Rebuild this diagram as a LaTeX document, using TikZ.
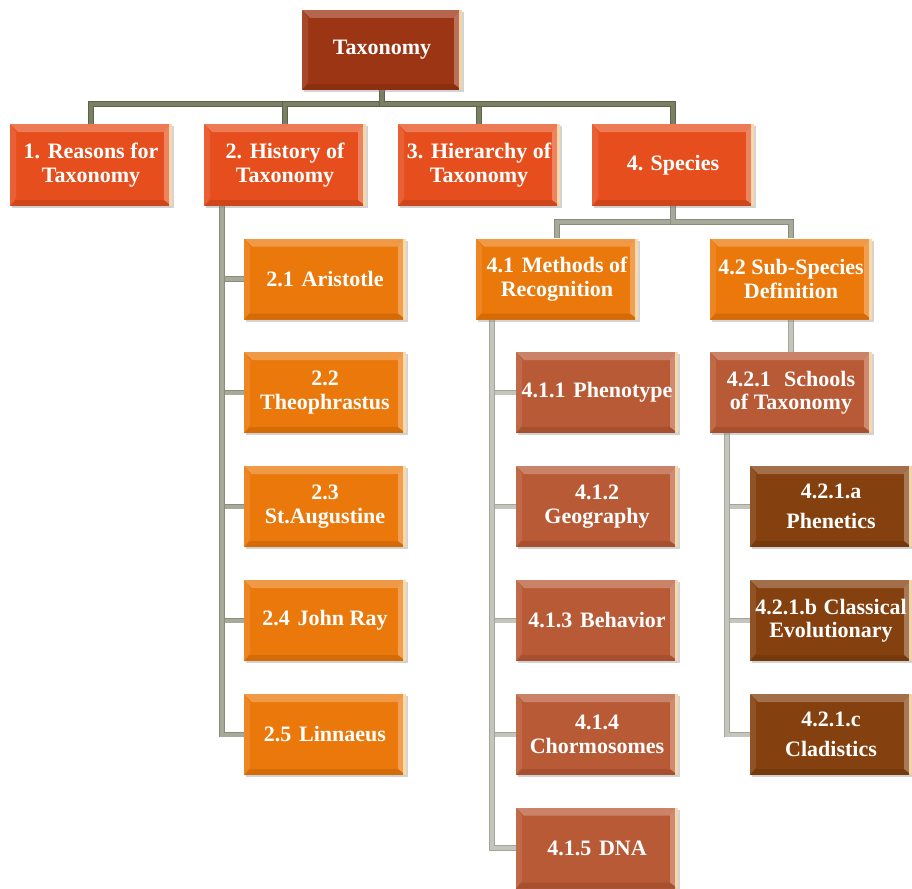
\documentclass[tikz,border=0pt]{standalone}
\usepackage{fontspec}
\setmainfont{Liberation Serif}
\usetikzlibrary{shadows,backgrounds,calc}
\definecolor{cTop}{HTML}{9C3514}
\definecolor{cOne}{HTML}{E64F1D}
\definecolor{cOra}{HTML}{EB780A}
\definecolor{cRust}{HTML}{B95A36}
\definecolor{cBrown}{HTML}{84400E}
\definecolor{lnA}{HTML}{7B8063}
\definecolor{lnAe}{HTML}{5E624A}
\definecolor{lnB}{HTML}{A7AA98}
\definecolor{lnBe}{HTML}{8A8D7C}
\definecolor{lnC}{HTML}{C4C6BC}
\definecolor{lnCe}{HTML}{A3A59B}
\definecolor{stripe}{HTML}{FCE6B8}
\tikzset{
  bevel/.style={path picture={
    \fill[white,opacity=0.25] (path picture bounding box.north west) -- (path picture bounding box.north east) -- ([xshift=-8pt,yshift=-8pt]path picture bounding box.north east) -- ([xshift=8pt,yshift=-8pt]path picture bounding box.north west) -- cycle;
    \fill[white,opacity=0.10] (path picture bounding box.north west) -- ([xshift=6pt,yshift=-8pt]path picture bounding box.north west) -- ([xshift=6pt,yshift=8pt]path picture bounding box.south west) -- (path picture bounding box.south west) -- cycle;
    \fill[black,opacity=0.10] (path picture bounding box.south west) -- (path picture bounding box.south east) -- ([xshift=-8pt,yshift=6pt]path picture bounding box.south east) -- ([xshift=6pt,yshift=6pt]path picture bounding box.south west) -- cycle;
    \fill[white,opacity=0.3] (path picture bounding box.north east) -- (path picture bounding box.south east) -- ([xshift=-8pt,yshift=6pt]path picture bounding box.south east) -- ([xshift=-8pt,yshift=-8pt]path picture bounding box.north east) -- cycle;
    \fill[stripe,opacity=0.85] ([xshift=-3pt]path picture bounding box.north east) rectangle (path picture bounding box.south east);
  }},
  tbox/.style={rectangle, inner sep=0pt, minimum width=162pt, minimum height=81pt,
    align=center, text=white, font=\fontsize{22}{23.5}\selectfont\bfseries,
    bevel, drop shadow={shadow xshift=2pt,shadow yshift=-2pt,opacity=0.35}},
  lvlzero/.style={tbox, fill=cTop, minimum width=160pt, minimum height=80pt},
  lvlone/.style={tbox, fill=cOne, minimum height=82pt},
  lvltwo/.style={tbox, fill=cOra},
  lvlthree/.style={tbox, fill=cRust},
  lvlfour/.style={tbox, fill=cBrown},
  conna/.style={draw=lnAe, line width=0.8pt, double=lnA, double distance=4pt},
  connb/.style={draw=lnBe, line width=0.8pt, double=lnB, double distance=4pt},
  connc/.style={draw=lnCe, line width=0.8pt, double=lnC, double distance=4pt},
}
\begin{document}
\begin{tikzpicture}[x=1pt,y=-1pt]
\useasboundingbox (0,0) rectangle (912,888);
\node[lvlzero] (tax) at (382,50) {Taxonomy};
\node[lvlone] (n1) at (91,165) {1.\hspace{.35em}Reasons for\\Taxonomy};
\node[lvlone] (n2) at (285,165) {2.\hspace{.35em}History of\\Taxonomy};
\node[lvlone] (n3) at (479,165) {3.\hspace{.35em}Hierarchy of\\Taxonomy};
\node[lvlone] (n4) at (673,165) {4. Species};
\node[lvltwo] (c21) at (325,279) {2.1\hspace{.35em}Aristotle};
\node[lvltwo] (c22) at (325,392.5) {2.2\\Theophrastus};
\node[lvltwo] (c23) at (325,506.5) {2.3\\St.Augustine};
\node[lvltwo] (c24) at (325,620.5) {2.4\hspace{.35em}John Ray};
\node[lvltwo] (c25) at (325,734.5) {2.5\hspace{.35em}Linnaeus};
\node[lvltwo] (n41) at (557,279) {4.1\hspace{.35em}Methods of\\Recognition};
\node[lvltwo] (n42) at (791,279) {4.2 Sub-Species\\Definition};
\node[lvlthree] (c411) at (597,392.5) {4.1.1\hspace{.35em}Phenotype};
\node[lvlthree] (c412) at (597,506.5) {4.1.2\\Geography};
\node[lvlthree] (c413) at (597,620.5) {4.1.3\hspace{.35em}Behavior};
\node[lvlthree] (c414) at (597,734.5) {4.1.4\\Chormosomes};
\node[lvlthree] (c415) at (597,848) {4.1.5\hspace{.35em}DNA};
\node[lvlthree] (n421) at (791,392.5) {4.2.1\hspace{.6em}Schools\\of Taxonomy};
\node[lvlfour] (d1) at (831,506.5) {4.2.1.a\\[6pt]Phenetics};
\node[lvlfour] (d2) at (831,620.5) {4.2.1.b\hspace{.3em}Classical\\Evolutionary};
\node[lvlfour] (d3) at (831,734.5) {4.2.1.c\\[6pt]Cladistics};
\begin{scope}[on background layer]
  \coordinate (bus) at ($(tax.south)+(0,14)$);
  \foreach \n in {n1,n2,n3,n4} \draw[conna] (tax.south) -- (bus) -| (\n.north);
  \coordinate (t2) at ($(n2.south west)+(18,0)$);
  \foreach \n in {c21,c22,c23,c24,c25} \draw[connb] (t2) |- (\n.west);
  \coordinate (bus4) at ($(n4.south)+(0,16)$);
  \foreach \n in {n41,n42} \draw[connb] (n4.south) -- (bus4) -| (\n.north);
  \coordinate (t41) at ($(n41.south west)+(16,0)$);
  \foreach \n in {c411,c412,c413,c414,c415} \draw[connc] (t41) |- (\n.west);
  \draw[connc] (n42.south) -- (n421.north);
  \coordinate (t421) at ($(n421.south west)+(17,0)$);
  \foreach \n in {d1,d2,d3} \draw[connc] (t421) |- (\n.west);
\end{scope}
\end{tikzpicture}
\end{document}
